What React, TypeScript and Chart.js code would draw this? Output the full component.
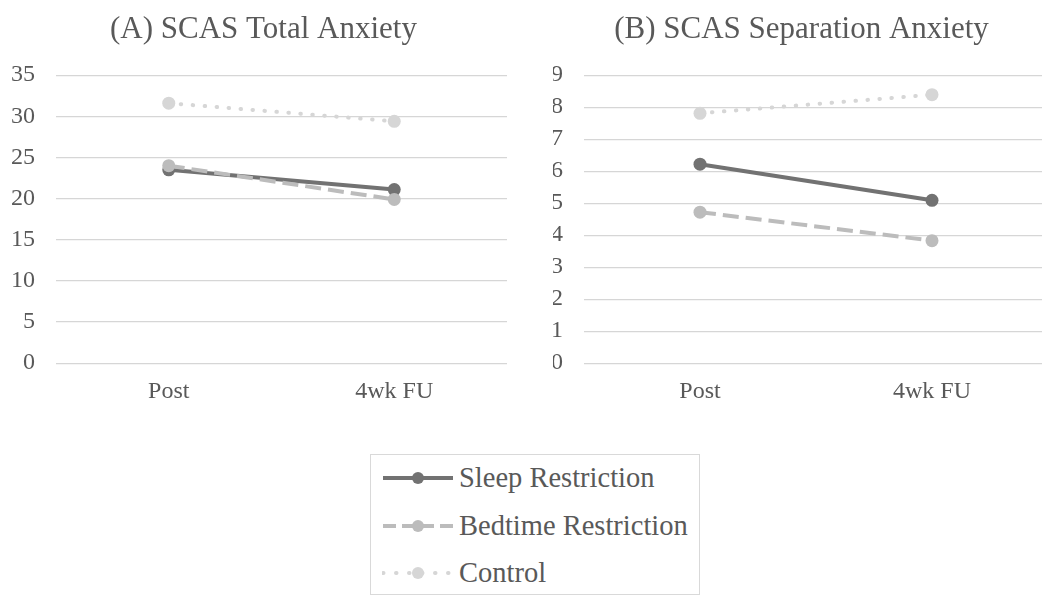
import React, { useEffect, useRef } from "react";
import { Chart, registerables } from "chart.js";

Chart.register(...registerables);

// Time points on the x axis
const categories = ["Post", "4wk FU"];

// (A) SCAS Total Anxiety
const totalSleep = [23.5, 21.1];
const totalBedtime = [24.0, 19.9];
const totalControl = [31.6, 29.4];
const totalMax = 35;
const totalStep = 5;

// (B) SCAS Separation Anxiety
const sepSleep = [6.22, 5.09];
const sepBedtime = [4.72, 3.83];
const sepControl = [7.81, 8.39];
const sepMax = 9;
const sepStep = 1;

const groupNames = ["Sleep Restriction", "Bedtime Restriction", "Control"];

const FONT = "'Liberation Serif', 'Times New Roman', serif";
const TEXT = "#595959";
const GRID = "#d6d6d6";

const SLEEP = "#727272";
const BEDTIME = "#bcbcbc";
const CONTROL = "#d6d6d6";

type Series = { sleep: number[]; bedtime: number[]; control: number[] };

type Frame = {
  padLeft: number;
  padRight: number;
  axisWidth: number;
  rightGap: number;
};

function buildConfig(title: string, s: Series, max: number, step: number, f: Frame): any {
  return {
    type: "line",
    data: {
      labels: categories,
      datasets: [
        {
          label: groupNames[0],
          data: s.sleep,
          borderColor: SLEEP,
          backgroundColor: SLEEP,
          borderWidth: 4,
          pointRadius: 6.5,
          pointBorderWidth: 0,
          pointBackgroundColor: SLEEP,
          tension: 0,
          order: 3,
        },
        {
          label: groupNames[1],
          data: s.bedtime,
          borderColor: BEDTIME,
          backgroundColor: BEDTIME,
          borderWidth: 4,
          borderDash: [16, 7],
          pointRadius: 6.5,
          pointBorderWidth: 0,
          pointBackgroundColor: BEDTIME,
          tension: 0,
          order: 2,
        },
        {
          label: groupNames[2],
          data: s.control,
          borderColor: CONTROL,
          backgroundColor: CONTROL,
          borderWidth: 4,
          borderDash: [0.5, 11.5],
          borderCapStyle: "round",
          pointRadius: 6.5,
          pointBorderWidth: 0,
          pointBackgroundColor: CONTROL,
          tension: 0,
          order: 1,
        },
      ],
    },
    options: {
      responsive: false,
      animation: false,
      devicePixelRatio: 1,
      layout: { padding: { left: f.padLeft, right: f.padRight, top: 0, bottom: 0 } },
      plugins: {
        legend: { display: false },
        tooltip: { enabled: false },
        title: {
          display: true,
          text: title,
          color: TEXT,
          font: { family: FONT, size: 31, weight: "normal" },
          padding: { top: 11, bottom: 27 },
        },
      },
      scales: {
        x: {
          offset: true,
          grid: { display: false, drawTicks: false },
          border: { display: false },
          ticks: {
            color: TEXT,
            padding: 14,
            font: { family: FONT, size: 24 },
          },
        },
        y: {
          min: 0,
          max: max,
          grid: { color: GRID, lineWidth: 1.3, drawTicks: false },
          border: { display: false },
          ticks: {
            stepSize: step,
            color: TEXT,
            padding: 21,
            font: { family: FONT, size: 24 },
          },
          // fixed axis width so the tick labels sit just left of the grid
          afterFit: (scale: any) => {
            scale.width = f.axisWidth;
          },
        },
        // empty right-hand strip between the plot and the chart edge
        gap: {
          type: "linear",
          position: "right",
          grid: { display: false, drawTicks: false },
          border: { display: false },
          ticks: { display: false },
          afterFit: (scale: any) => {
            scale.width = f.rightGap;
          },
        },
      },
    },
  };
}

function LineChart(props: {
  title: string;
  series: Series;
  max: number;
  step: number;
  width: number;
  height: number;
  frame: Frame;
}) {
  const ref = useRef<HTMLCanvasElement | null>(null);
  useEffect(() => {
    if (!ref.current) return;
    const chart = new Chart(
      ref.current,
      buildConfig(props.title, props.series, props.max, props.step, props.frame)
    );
    return () => chart.destroy();
  }, []);
  return (
    <canvas
      ref={ref}
      width={props.width}
      height={props.height}
      style={{ display: "block", width: props.width, height: props.height }}
    />
  );
}

// Small legend swatch: line style with a marker in the middle
function Swatch(props: { color: string; dash?: string; cap?: "round" | "butt" }) {
  return (
    <svg width={72} height={14} style={{ display: "block" }}>
      <line
        x1={1}
        y1={7}
        x2={71}
        y2={7}
        stroke={props.color}
        strokeWidth={4}
        strokeDasharray={props.dash}
        strokeLinecap={props.cap || "butt"}
      />
      <circle cx={36} cy={7} r={6} fill={props.color} />
    </svg>
  );
}

export default function App() {
  const swatches = [
    <Swatch color={SLEEP} />,
    <Swatch color={BEDTIME} dash="13 6" />,
    <Swatch color={CONTROL} dash="0.5 12.5" cap="round" />,
  ];
  return (
    <div
      style={{
        position: "absolute",
        left: 0,
        top: 0,
        width: 1042,
        height: 597,
        overflow: "hidden",
        background: "#ffffff",
      }}
    >
      <div style={{ position: "absolute", left: 0, top: 0 }}>
        <LineChart
          title="(A) SCAS Total Anxiety"
          series={{ sleep: totalSleep, bedtime: totalBedtime, control: totalControl }}
          max={totalMax}
          step={totalStep}
          width={527}
          height={420}
          frame={{ padLeft: 10, padRight: 10, axisWidth: 46, rightGap: 10 }}
        />
      </div>
      <div style={{ position: "absolute", left: 527, top: 0 }}>
        <LineChart
          title="(B) SCAS Separation Anxiety"
          series={{ sleep: sepSleep, bedtime: sepBedtime, control: sepControl }}
          max={sepMax}
          step={sepStep}
          width={549}
          height={420}
          frame={{ padLeft: 26, padRight: 26, axisWidth: 31, rightGap: 2 }}
        />
      </div>
      <div
        style={{
          position: "absolute",
          left: 370,
          top: 454,
          width: 330,
          height: 141,
          border: "1.5px solid #d9d9d9",
          boxSizing: "border-box",
          fontFamily: FONT,
          fontSize: 28.5,
          color: TEXT,
        }}
      >
        {groupNames.map((name, i) => (
          <div
            key={name}
            style={{
              position: "absolute",
              left: 11,
              top: 6 + i * 47.5,
              height: 34,
              display: "flex",
              alignItems: "center",
              whiteSpace: "nowrap",
            }}
          >
            {swatches[i]}
            <span style={{ marginLeft: 5 }}>{name}</span>
          </div>
        ))}
      </div>
    </div>
  );
}
